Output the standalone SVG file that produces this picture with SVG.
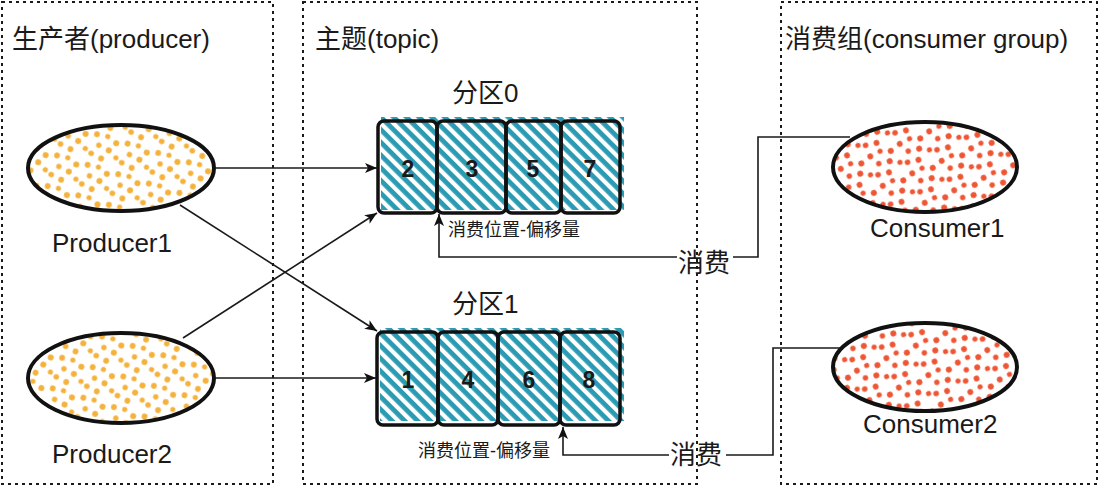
<svg xmlns="http://www.w3.org/2000/svg" width="1100" height="486" viewBox="0 0 1100 486">
<style>
.frame{fill:none;stroke:#1a1a1a;stroke-width:2;stroke-dasharray:3 4}
.title{font-family:"Liberation Sans","Noto Sans CJK SC",sans-serif;font-size:26px;fill:#1a1a1a}
.lbl{font-family:"Liberation Sans","Noto Sans CJK SC",sans-serif;font-size:26px;fill:#1a1a1a}
.num{font-family:"Liberation Sans",sans-serif;font-size:23px;font-weight:bold;fill:#1a1a1a;text-anchor:middle}
.small{font-family:"Liberation Sans","Noto Sans CJK SC",sans-serif;font-size:18px;fill:#1a1a1a}
.cell{fill:url(#hatch);stroke:none}
.cellb{fill:none;stroke:#111;stroke-width:3.5}
.ell{stroke:#111;stroke-width:4}
.con{fill:none;stroke:#1a1a1a;stroke-width:1.6}
</style>
<defs>
<pattern id="hatch" width="9" height="9" patternUnits="userSpaceOnUse" patternTransform="rotate(45)">
<rect width="9" height="9" fill="#ffffff"/>
<rect width="9" height="4.8" fill="#2a9bb3"/>
</pattern>
<pattern id="dotsY" width="32" height="32" patternUnits="userSpaceOnUse" patternTransform="rotate(17)">
<rect width="32" height="32" fill="#ffffff"/>
<g fill="#f4b23c">
<circle cx="4" cy="4" r="2.9"/><circle cx="15" cy="3" r="2.6"/><circle cx="25" cy="7" r="3"/>
<circle cx="9" cy="14" r="2.7"/><circle cx="20" cy="16" r="3"/><circle cx="29" cy="21" r="2.6"/>
<circle cx="4" cy="24" r="2.8"/><circle cx="15" cy="26" r="2.9"/>
</g>
</pattern>
<pattern id="dotsR" width="32" height="32" patternUnits="userSpaceOnUse" patternTransform="rotate(-23)">
<rect width="32" height="32" fill="#ffffff"/>
<g fill="#ee5533">
<circle cx="4" cy="4" r="2.9"/><circle cx="15" cy="3" r="2.6"/><circle cx="25" cy="7" r="3"/>
<circle cx="9" cy="14" r="2.7"/><circle cx="20" cy="16" r="3"/><circle cx="29" cy="21" r="2.6"/>
<circle cx="4" cy="24" r="2.8"/><circle cx="15" cy="26" r="2.9"/>
</g>
</pattern>
<marker id="ah" viewBox="0 0 12 10" refX="12" refY="5" markerWidth="12" markerHeight="10" markerUnits="userSpaceOnUse" orient="auto">
<path d="M0,0 L12,5 L0,10 L3,5 z" fill="#111"/>
</marker>
</defs>
<rect width="1100" height="486" fill="#ffffff"/>

<g id="producers-frame">
<rect class="frame" x="2" y="2" width="271" height="482"/>
<text class="title" x="12" y="48">生产者(producer)</text>
</g>
<g id="topic-frame">
<rect class="frame" x="303" y="2" width="394" height="482"/>
<text class="title" x="315" y="48">主题(topic)</text>
</g>
<g id="consumers-frame">
<rect class="frame" x="781" y="2" width="316" height="482"/>
<text class="title" x="785" y="48">消费组(consumer group)</text>
</g>

<g id="producer1">
<ellipse class="ell" cx="121" cy="168" rx="93" ry="43" fill="url(#dotsY)"/>
<text class="lbl" x="52" y="252">Producer1</text>
</g>
<g id="producer2">
<ellipse class="ell" cx="121" cy="378" rx="93" ry="45" fill="url(#dotsY)"/>
<text class="lbl" x="52" y="463">Producer2</text>
</g>

<g id="consumer1">
<ellipse class="ell" cx="925" cy="167" rx="92" ry="45" fill="url(#dotsR)"/>
<text class="lbl" x="870" y="237">Consumer1</text>
</g>
<g id="consumer2">
<ellipse class="ell" cx="925" cy="367" rx="92" ry="44" fill="url(#dotsR)"/>
<text class="lbl" x="863" y="433">Consumer2</text>
</g>

<g id="partition0">
<text class="lbl" x="452" y="102">分区0</text>
<rect class="cell" x="381" y="117" width="243" height="93"/>
<rect class="cellb" x="378" y="121" width="59" height="92" rx="6"/>
<rect class="cellb" x="437" y="121" width="69" height="92" rx="6"/>
<rect class="cellb" x="506" y="121" width="55" height="92" rx="6"/>
<rect class="cellb" x="561" y="121" width="59" height="92" rx="6"/>
<text class="num" x="408" y="177">2</text>
<text class="num" x="472" y="177">3</text>
<text class="num" x="533" y="177">5</text>
<text class="num" x="590" y="177">7</text>
<text class="small" x="448" y="236">消费位置-偏移量</text>
</g>

<g id="partition1">
<text class="lbl" x="452" y="313">分区1</text>
<rect class="cell" x="380" y="328" width="244" height="93"/>
<rect class="cellb" x="377" y="332" width="61" height="93" rx="6"/>
<rect class="cellb" x="438" y="332" width="60" height="93" rx="6"/>
<rect class="cellb" x="498" y="332" width="62" height="93" rx="6"/>
<rect class="cellb" x="560" y="332" width="60" height="93" rx="6"/>
<text class="num" x="408" y="388">1</text>
<text class="num" x="468" y="388">4</text>
<text class="num" x="529" y="388">6</text>
<text class="num" x="589" y="388">8</text>
<text class="small" x="418" y="457">消费位置-偏移量</text>
</g>

<g id="connectors">
<path class="con" d="M215,168 L377,168" marker-end="url(#ah)"/>
<path class="con" d="M180,205 L377,331" marker-end="url(#ah)"/>
<path class="con" d="M183,338 L377,213" marker-end="url(#ah)"/>
<path class="con" d="M215,378 L376,378" marker-end="url(#ah)"/>
<path class="con" d="M850,137 H758 V257 H733"/>
<path class="con" d="M677,257 H439 V214" marker-end="url(#ah)"/>
<text class="lbl" x="678" y="272">消费</text>
<path class="con" d="M840,348 H773 V455 H726"/>
<path class="con" d="M669,455 H563 V427" marker-end="url(#ah)"/>
<text class="lbl" x="670" y="464">消费</text>
</g>
</svg>
